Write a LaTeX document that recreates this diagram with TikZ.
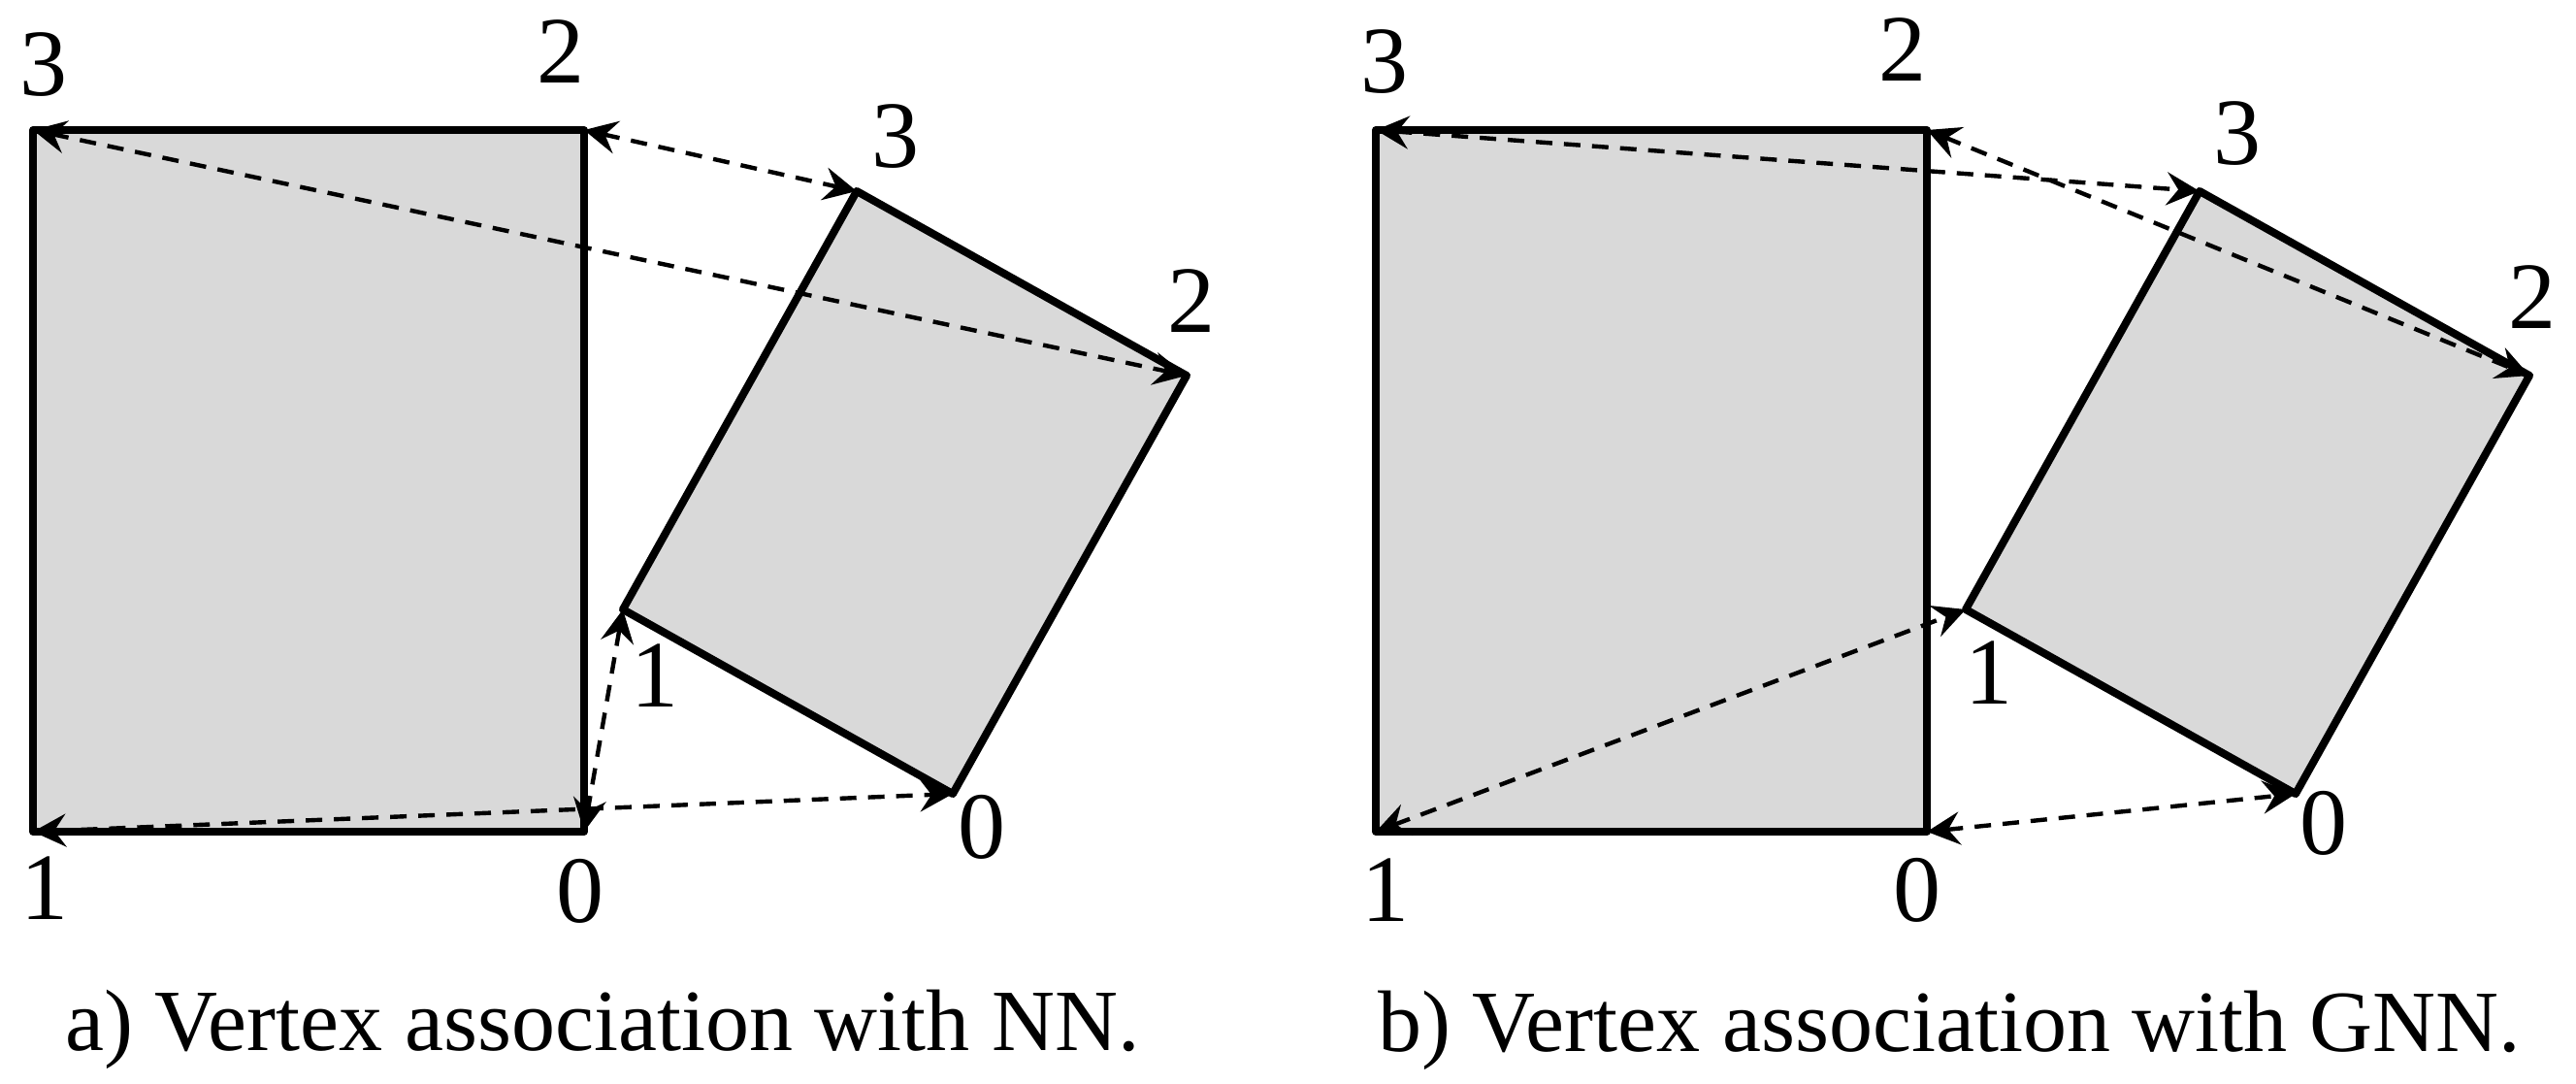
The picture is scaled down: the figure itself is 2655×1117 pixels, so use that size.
\documentclass[tikz,border=0pt]{standalone}
\usepackage{fontspec}
\setmainfont{Liberation Serif}
\usetikzlibrary{arrows.meta}
\definecolor{shapefill}{RGB}{217,217,217}
\begin{document}
\begin{tikzpicture}[x=0.5pt,y=-0.5pt,
  quadbox/.style={fill=shapefill,draw=black,line width=4pt,line join=round},
  assoc/.style={draw=black,line width=2.2pt,dash pattern=on 8.5pt off 6pt,
    {Stealth[length=17pt,width=17pt,inset=6pt]}-{Stealth[length=17pt,width=17pt,inset=6pt]}},
  vlabel/.style={inner sep=0pt,font=\fontsize{49}{58}\selectfont},
  captext/.style={inner sep=0pt,anchor=base,font=\fontsize{45}{54}\selectfont}]
\useasboundingbox (0,0) rectangle (2655,1117);
% ---- panel a ----
\coordinate (aR3) at (34,134);
\coordinate (aR2) at (602,134);
\coordinate (aR0) at (602,857);
\coordinate (aR1) at (34,857);
\coordinate (aQ1) at (642,628);
\coordinate (aQ0) at (982,818);
\coordinate (aQ2) at (1223,387);
\coordinate (aQ3) at (883,197);
\draw[quadbox] (aR3) -- (aR2) -- (aR0) -- (aR1) -- cycle;
\draw[quadbox] (aQ1) -- (aQ0) -- (aQ2) -- (aQ3) -- cycle;
\draw[assoc] (aR3) -- (aQ2);
\draw[assoc] (aR2) -- (aQ3);
\draw[assoc] (aR0) -- (aQ1);
\draw[assoc] (aR1) -- (aQ0);
\node[vlabel] (laR3) at (45,67) {3};
\node[vlabel] (laR2) at (578,53) {2};
\node[vlabel] (laQ3) at (923,141) {3};
\node[vlabel] (laQ2) at (1228,310) {2};
\node[vlabel] (laQ1) at (675,696) {1};
\node[vlabel] (laQ0) at (1012,852) {0};
\node[vlabel] (laR1) at (46,915) {1};
\node[vlabel] (laR0) at (598,918) {0};
\node[captext] (capa) at (621,1082) {a) Vertex association with NN.};
% ---- panel b ----
\coordinate (bR3) at (1418,134);
\coordinate (bR2) at (1986,134);
\coordinate (bR0) at (1986,857);
\coordinate (bR1) at (1418,857);
\coordinate (bQ1) at (2026,628);
\coordinate (bQ0) at (2366,818);
\coordinate (bQ2) at (2607,387);
\coordinate (bQ3) at (2267,197);
\draw[quadbox] (bR3) -- (bR2) -- (bR0) -- (bR1) -- cycle;
\draw[quadbox] (bQ1) -- (bQ0) -- (bQ2) -- (bQ3) -- cycle;
\draw[assoc] (bR3) -- (bQ3);
\draw[assoc] (bR2) -- (bQ2);
\draw[assoc] (bR1) -- (bQ1);
\draw[assoc] (bR0) -- (bQ0);
\node[vlabel] (lbR3) at (1427,64) {3};
\node[vlabel] (lbR2) at (1961,51) {2};
\node[vlabel] (lbQ3) at (2306,138) {3};
\node[vlabel] (lbQ2) at (2610,306) {2};
\node[vlabel] (lbQ1) at (2050,693) {1};
\node[vlabel] (lbQ0) at (2395,848) {0};
\node[vlabel] (lbR1) at (1428,917) {1};
\node[vlabel] (lbR0) at (1976,917) {0};
\node[captext] (capb) at (2009,1083) {b) Vertex association with GNN.};
\end{tikzpicture}
\end{document}
